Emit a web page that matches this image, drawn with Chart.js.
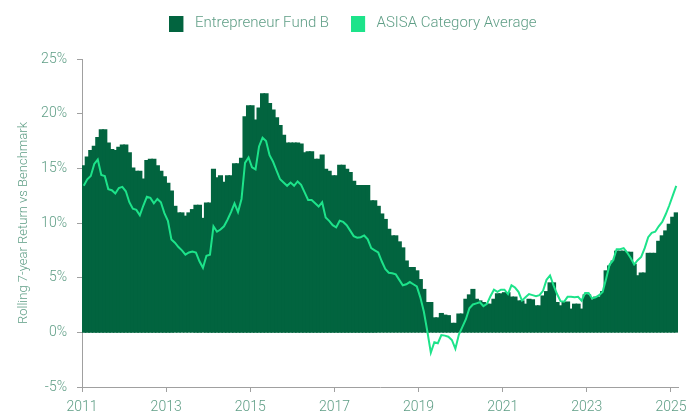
<!DOCTYPE html>
<html>
<head>
<meta charset="utf-8">
<script src="https://cdn.jsdelivr.net/npm/chart.js@4.4.1/dist/chart.umd.min.js"></script>
<style>
  html, body { margin: 0; padding: 0; background: #ffffff; }
  #wrap { width: 686px; height: 413px; position: relative; }
</style>
</head>
<body>
<div id="wrap"><canvas id="c" width="686" height="413"></canvas></div>
<script>
// ---- DATA (monthly, starting January 2011) ----
const startYear = 2011;
const seriesNames = ['Entrepreneur Fund B', 'ASISA Category Average'];
const yearTicks = [2011, 2013, 2015, 2017, 2019, 2021, 2023, 2025];
const yTicks = [-5, 0, 5, 10, 15, 20, 25];

const fundB = [
  15.2, 16.0, 16.6, 17.0, 17.8, 18.5, 18.5, 17.3, 16.7, 16.6, 16.9, 17.1,
  17.1, 16.4, 15.0, 14.7, 14.7, 14.0, 15.7, 15.8, 15.8, 15.2, 14.7, 14.2,
  13.6, 12.9, 11.5, 10.9, 10.9, 10.6, 10.9, 11.2, 11.6, 11.6, 10.4, 11.8,
  11.8, 14.9, 14.1, 14.3, 13.7, 14.3, 14.3, 15.4, 15.4, 15.9, 19.7, 20.7,
  20.7, 19.4, 20.5, 21.8, 21.8, 20.9, 20.3, 19.6, 18.9, 18.0, 17.3, 17.3,
  17.3, 17.3, 17.2, 16.4, 16.5, 16.5, 15.8, 15.8, 16.2, 14.9, 14.7, 14.3,
  14.3, 15.25, 15.25, 14.9, 14.6, 13.8, 13.4, 13.4, 13.4, 13.4, 12.0, 12.0,
  11.5, 10.8, 10.3, 9.4, 8.8, 8.8, 8.25, 7.7, 6.5, 5.9, 5.9, 5.6,
  4.8, 3.9, 2.7, 2.7, 1.3, 1.3, 1.7, 1.55, 1.5, 0.8, 0.8, 1.65,
  1.65, 3.0, 3.4, 3.9, 3.0, 2.85, 2.7, 2.55, 2.55, 3.0, 3.5, 3.5,
  3.6, 3.6, 3.2, 3.2, 2.85, 2.85, 2.55, 3.0, 2.95, 2.4, 2.4, 3.3,
  3.7, 4.5, 4.5, 2.7, 2.4, 2.7, 2.75, 2.1, 2.55, 2.55, 2.1, 3.4,
  3.4, 2.95, 3.2, 3.2, 3.7, 5.6, 6.05, 6.5, 7.4, 7.4, 7.4, 7.3,
  7.3, 6.2, 5.15, 5.4, 5.4, 7.2, 7.2, 7.2, 8.3, 8.8, 9.25, 9.86,
  10.5, 10.9
];

const asisaAvg = [
  13.4, 14.0, 14.3, 15.4, 15.8, 14.4, 14.3, 13.1, 13.0, 12.7, 13.2, 13.3,
  12.9, 11.9, 11.3, 11.2, 10.7, 11.6, 12.4, 12.3, 11.8, 12.2, 11.9, 10.9,
  10.2, 8.5, 8.2, 7.8, 7.5, 7.1, 7.3, 7.4, 7.3, 6.5, 5.9, 7.0,
  7.1, 9.7, 9.2, 9.4, 9.7, 10.3, 11.0, 11.8, 11.0, 12.2, 15.5, 16.0,
  15.1, 14.9, 17.0, 17.8, 17.5, 16.2, 15.6, 14.8, 14.0, 13.7, 13.4, 13.7,
  13.4, 13.8, 13.5, 12.8, 12.1, 12.1, 11.8, 11.5, 11.9, 10.5, 10.2, 9.8,
  9.6, 10.2, 10.1, 9.8, 9.3, 8.8, 8.65, 8.7, 8.86, 8.5, 7.7, 7.5,
  7.3, 6.5, 5.8, 5.45, 5.4, 5.3, 4.8, 4.3, 4.4, 4.6, 4.4, 4.2,
  3.2, 1.9, 0.1, -1.85, -0.9, -1.0, -0.25, -0.3, -0.4, -0.7, -1.5, -0.2,
  0.5, 1.2, 2.2, 2.55, 2.65, 2.75, 2.4, 2.6, 3.3, 3.9, 3.7, 3.9,
  3.9, 3.5, 4.3, 4.1, 3.7, 2.9, 3.2, 3.5, 3.4, 3.3, 3.4, 3.8,
  4.8, 5.2, 4.3, 3.5, 2.85, 2.8, 3.25, 3.25, 3.2, 3.25, 2.9, 3.6,
  3.6, 3.1, 3.2, 3.4, 3.7, 4.9, 6.2, 6.6, 7.6, 7.6, 7.7, 7.3,
  6.8, 6.2, 6.6, 6.9, 7.7, 8.7, 9.1, 9.2, 9.7, 10.1, 10.8, 11.6,
  12.5, 13.4
];

// ---- BUILD ----
const monthX = i => startYear + (i + 0.5) / 12;
const fundPts = fundB.map((v, i) => ({ x: monthX(i), y: v }));
const asisaPts = asisaAvg.map((v, i) => ({ x: monthX(i), y: v }));

const textColor = '#5f9e86';
const axisColor = '#a0a0a0';
const darkGreen = '#02643f';
const lightGreen = '#1de38a';
const fontFam = 'Roboto, "Liberation Sans", sans-serif';

// legend marker: coloured square with a little transparent space on its right
function legendMarker(color) {
  const c = document.createElement('canvas');
  c.width = 18; c.height = 16;
  const g = c.getContext('2d');
  g.fillStyle = color;
  g.fillRect(0, 0, 14, 16);
  return c;
}
const markers = [legendMarker(darkGreen), legendMarker(lightGreen)];

// extra space below the legend and horizontal nudge
const legendTweak = {
  id: 'legendTweak',
  beforeInit(chart) {
    const lg = chart.legend;
    if (!lg) return;
    const origFit = lg.fit;
    lg.fit = function () { origFit.call(this); this.height += 18; };
  },
  afterLayout(chart) {
    const lg = chart.legend;
    if (!lg) return;
    lg.left += 14; lg.right += 14;
  }
};

new Chart(document.getElementById('c'), {
  type: 'bar',
  data: {
    datasets: [
      {
        type: 'bar',
        label: seriesNames[0],
        data: fundPts,
        backgroundColor: darkGreen,
        borderColor: darkGreen,
        borderWidth: 0,
        inflateAmount: 0.8,
        barPercentage: 1.0,
        categoryPercentage: 1.0,
        order: 2
      },
      {
        type: 'line',
        label: seriesNames[1],
        data: asisaPts,
        borderColor: lightGreen,
        backgroundColor: lightGreen,
        borderWidth: 2,
        pointRadius: 0,
        tension: 0,
        fill: false,
        order: 1
      }
    ]
  },
  plugins: [legendTweak],
  options: {
    responsive: false,
    animation: false,
    devicePixelRatio: 1,
    layout: { padding: { top: -6, right: 8, left: 0, bottom: 0 } },
    plugins: {
      legend: {
        position: 'top',
        labels: {
          color: textColor,
          usePointStyle: true,
          pointStyleWidth: 18,
          boxWidth: 18,
          boxHeight: 16,
          padding: 22,
          font: { family: fontFam, size: 15, weight: 300 },
          sort: (a, b) => a.datasetIndex - b.datasetIndex,
          generateLabels: chart => {
            const items = Chart.defaults.plugins.legend.labels.generateLabels(chart);
            items.forEach(it => { it.pointStyle = markers[it.datasetIndex]; it.lineWidth = 0; });
            return items;
          }
        }
      },
      tooltip: { enabled: false }
    },
    scales: {
      x: {
        type: 'linear',
        offset: false,
        min: startYear,
        max: 2025 + 2 / 12,
        afterBuildTicks: s => { s.ticks = yearTicks.map(v => ({ value: v })); },
        afterFit: s => { s.height = 26; s.paddingLeft = 0; s.paddingRight = 0; },
        grid: { offset: false, drawOnChartArea: false, drawTicks: true, tickLength: 5, color: axisColor },
        border: { display: true, color: axisColor },
        ticks: {
          color: textColor,
          padding: 7,
          maxRotation: 0,
          autoSkip: false,
          font: { family: fontFam, size: 14, weight: 300 },
          callback: v => String(v)
        }
      },
      y: {
        min: -5,
        max: 25,
        afterBuildTicks: s => { s.ticks = yTicks.map(v => ({ value: v })); },
        afterFit: s => { s.width = 82; },
        grid: { drawOnChartArea: false, drawTicks: true, tickLength: 5, color: axisColor },
        border: { display: true, color: axisColor },
        title: {
          display: true,
          text: 'Rolling 7-year Return vs Benchmark',
          color: textColor,
          font: { family: fontFam, size: 13, weight: 300 },
          padding: { top: 16, bottom: 0 }
        },
        ticks: {
          color: textColor,
          padding: 10,
          font: { family: fontFam, size: 14, weight: 300 },
          callback: v => v + '%'
        }
      }
    }
  }
});
</script>
</body>
</html>
